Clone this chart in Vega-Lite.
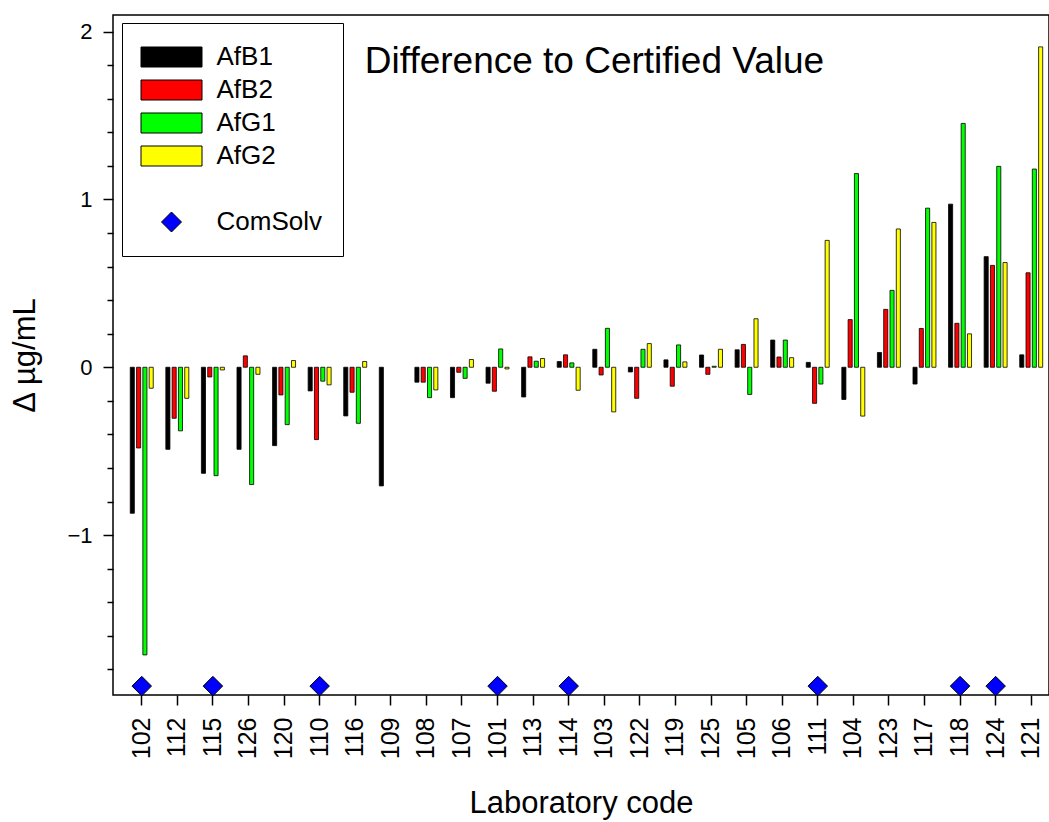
{
  "$schema": "https://vega.github.io/schema/vega-lite/v6.json",
  "autosize": {"type": "none"},
  "padding": {"left": 113, "top": 15, "right": 0, "bottom": 127},
  "width": 936,
  "height": 680,
  "background": "white",
  "config": {
    "font": "Liberation Sans",
    "view": {"stroke": "black", "strokeWidth": 1.5}
  },
  "title": {
    "text": "Difference to Certified Value",
    "font": "Liberation Sans",
    "fontSize": 37,
    "fontWeight": "normal",
    "color": "black",
    "anchor": "middle",
    "frame": "group",
    "baseline": "alphabetic",
    "offset": 0,
    "dy": 95.4,
    "dx": 13.5
  },
  "datasets": {
    "bars": [
      {"lab": "102", "analyte": "AfB1", "value": -0.870}, {"lab": "102", "analyte": "AfB2", "value": -0.481}, {"lab": "102", "analyte": "AfG1", "value": -1.714}, {"lab": "102", "analyte": "AfG2", "value": -0.125},
      {"lab": "112", "analyte": "AfB1", "value": -0.489}, {"lab": "112", "analyte": "AfB2", "value": -0.304}, {"lab": "112", "analyte": "AfG1", "value": -0.379}, {"lab": "112", "analyte": "AfG2", "value": -0.185},
      {"lab": "115", "analyte": "AfB1", "value": -0.632}, {"lab": "115", "analyte": "AfB2", "value": -0.058}, {"lab": "115", "analyte": "AfG1", "value": -0.646}, {"lab": "115", "analyte": "AfG2", "value": -0.016},
      {"lab": "126", "analyte": "AfB1", "value": -0.489}, {"lab": "126", "analyte": "AfB2", "value": 0.068}, {"lab": "126", "analyte": "AfG1", "value": -0.699}, {"lab": "126", "analyte": "AfG2", "value": -0.042},
      {"lab": "120", "analyte": "AfB1", "value": -0.467}, {"lab": "120", "analyte": "AfB2", "value": -0.165}, {"lab": "120", "analyte": "AfG1", "value": -0.342}, {"lab": "120", "analyte": "AfG2", "value": 0.040},
      {"lab": "110", "analyte": "AfB1", "value": -0.141}, {"lab": "110", "analyte": "AfB2", "value": -0.431}, {"lab": "110", "analyte": "AfG1", "value": -0.083}, {"lab": "110", "analyte": "AfG2", "value": -0.105},
      {"lab": "116", "analyte": "AfB1", "value": -0.290}, {"lab": "116", "analyte": "AfB2", "value": -0.149}, {"lab": "116", "analyte": "AfG1", "value": -0.334}, {"lab": "116", "analyte": "AfG2", "value": 0.034},
      {"lab": "109", "analyte": "AfB1", "value": -0.707},
      {"lab": "108", "analyte": "AfB1", "value": -0.089}, {"lab": "108", "analyte": "AfB2", "value": -0.089}, {"lab": "108", "analyte": "AfG1", "value": -0.181}, {"lab": "108", "analyte": "AfG2", "value": -0.135},
      {"lab": "107", "analyte": "AfB1", "value": -0.181}, {"lab": "107", "analyte": "AfB2", "value": -0.030}, {"lab": "107", "analyte": "AfG1", "value": -0.066}, {"lab": "107", "analyte": "AfG2", "value": 0.046},
      {"lab": "101", "analyte": "AfB1", "value": -0.095}, {"lab": "101", "analyte": "AfB2", "value": -0.143}, {"lab": "101", "analyte": "AfG1", "value": 0.109}, {"lab": "101", "analyte": "AfG2", "value": -0.010},
      {"lab": "113", "analyte": "AfB1", "value": -0.177}, {"lab": "113", "analyte": "AfB2", "value": 0.062}, {"lab": "113", "analyte": "AfG1", "value": 0.036}, {"lab": "113", "analyte": "AfG2", "value": 0.052},
      {"lab": "114", "analyte": "AfB1", "value": 0.034}, {"lab": "114", "analyte": "AfB2", "value": 0.074}, {"lab": "114", "analyte": "AfG1", "value": 0.026}, {"lab": "114", "analyte": "AfG2", "value": -0.137},
      {"lab": "103", "analyte": "AfB1", "value": 0.107}, {"lab": "103", "analyte": "AfB2", "value": -0.046}, {"lab": "103", "analyte": "AfG1", "value": 0.232}, {"lab": "103", "analyte": "AfG2", "value": -0.266},
      {"lab": "122", "analyte": "AfB1", "value": -0.028}, {"lab": "122", "analyte": "AfB2", "value": -0.185}, {"lab": "122", "analyte": "AfG1", "value": 0.107}, {"lab": "122", "analyte": "AfG2", "value": 0.141},
      {"lab": "119", "analyte": "AfB1", "value": 0.044}, {"lab": "119", "analyte": "AfB2", "value": -0.113}, {"lab": "119", "analyte": "AfG1", "value": 0.133}, {"lab": "119", "analyte": "AfG2", "value": 0.032},
      {"lab": "125", "analyte": "AfB1", "value": 0.073}, {"lab": "125", "analyte": "AfB2", "value": -0.042}, {"lab": "125", "analyte": "AfG1", "value": 0.006}, {"lab": "125", "analyte": "AfG2", "value": 0.107},
      {"lab": "105", "analyte": "AfB1", "value": 0.104}, {"lab": "105", "analyte": "AfB2", "value": 0.136}, {"lab": "105", "analyte": "AfG1", "value": -0.162}, {"lab": "105", "analyte": "AfG2", "value": 0.289},
      {"lab": "106", "analyte": "AfB1", "value": 0.162}, {"lab": "106", "analyte": "AfB2", "value": 0.061}, {"lab": "106", "analyte": "AfG1", "value": 0.162}, {"lab": "106", "analyte": "AfG2", "value": 0.057},
      {"lab": "111", "analyte": "AfB1", "value": 0.029}, {"lab": "111", "analyte": "AfB2", "value": -0.215}, {"lab": "111", "analyte": "AfG1", "value": -0.100}, {"lab": "111", "analyte": "AfG2", "value": 0.756},
      {"lab": "104", "analyte": "AfB1", "value": -0.192}, {"lab": "104", "analyte": "AfB2", "value": 0.284}, {"lab": "104", "analyte": "AfG1", "value": 1.154}, {"lab": "104", "analyte": "AfG2", "value": -0.291},
      {"lab": "123", "analyte": "AfB1", "value": 0.088}, {"lab": "123", "analyte": "AfB2", "value": 0.345}, {"lab": "123", "analyte": "AfG1", "value": 0.458}, {"lab": "123", "analyte": "AfG2", "value": 0.824},
      {"lab": "117", "analyte": "AfB1", "value": -0.100}, {"lab": "117", "analyte": "AfB2", "value": 0.231}, {"lab": "117", "analyte": "AfG1", "value": 0.948}, {"lab": "117", "analyte": "AfG2", "value": 0.863},
      {"lab": "118", "analyte": "AfB1", "value": 0.972}, {"lab": "118", "analyte": "AfB2", "value": 0.262}, {"lab": "118", "analyte": "AfG1", "value": 1.453}, {"lab": "118", "analyte": "AfG2", "value": 0.199},
      {"lab": "124", "analyte": "AfB1", "value": 0.659}, {"lab": "124", "analyte": "AfB2", "value": 0.607}, {"lab": "124", "analyte": "AfG1", "value": 1.197}, {"lab": "124", "analyte": "AfG2", "value": 0.624},
      {"lab": "121", "analyte": "AfB1", "value": 0.074}, {"lab": "121", "analyte": "AfB2", "value": 0.563}, {"lab": "121", "analyte": "AfG1", "value": 1.181}, {"lab": "121", "analyte": "AfG2", "value": 1.909}
    ],
    "comsolv": [
      {"lab": "102", "analyte": "ComSolv", "value": -1.9},
      {"lab": "115", "analyte": "ComSolv", "value": -1.9},
      {"lab": "110", "analyte": "ComSolv", "value": -1.9},
      {"lab": "101", "analyte": "ComSolv", "value": -1.9},
      {"lab": "114", "analyte": "ComSolv", "value": -1.9},
      {"lab": "111", "analyte": "ComSolv", "value": -1.9},
      {"lab": "118", "analyte": "ComSolv", "value": -1.9},
      {"lab": "124", "analyte": "ComSolv", "value": -1.9}
    ]
  },
  "layer": [
    {
      "data": {"name": "bars"},
      "mark": {"type": "bar", "stroke": "black", "strokeWidth": 0.8},
      "encoding": {
        "x": {
          "field": "lab", "type": "nominal",
          "scale": {
            "domain": ["102","112","115","126","120","110","116","109","108","107","101","113","114","103","122","119","125","105","106","111","104","123","117","118","124","121"],
            "paddingInner": 0, "paddingOuter": 0.154, "align": 1
          },
          "axis": {
            "title": "Laboratory code",
            "titleFont": "Liberation Sans", "titleFontSize": 31, "titleFontWeight": "normal", "titleColor": "black", "titlePadding": 30,
            "labelAngle": -90, "labelFont": "Liberation Sans", "labelFontSize": 25, "labelColor": "black", "labelPadding": 12,
            "tickSize": 10, "tickWidth": 1.5, "tickColor": "black", "bandPosition": 0.5,
            "domain": false, "grid": false
          }
        },
        "xOffset": {
          "field": "analyte", "type": "nominal",
          "scale": {"domain": ["AfB1", "AfB2", "AfG1", "AfG2"], "paddingInner": 0.35, "paddingOuter": 1.45}
        },
        "y": {
          "field": "value", "type": "quantitative",
          "scale": {"domain": [-1.953, 2.099], "nice": false, "zero": false},
          "axis": {
            "orient": "left",
            "values": [-1, 0, 1, 2], "format": "d",
            "title": "Δ µg/mL",
            "titleFont": "Liberation Sans", "titleFontSize": 31, "titleFontWeight": "normal", "titleColor": "black", "titlePadding": 25,
            "labelFont": "Liberation Sans", "labelFontSize": 22, "labelColor": "black", "labelPadding": 11,
            "tickSize": 10, "tickWidth": 1.5, "tickColor": "black",
            "domain": false, "grid": false
          }
        },
        "fill": {
          "field": "analyte", "type": "nominal",
          "scale": {
            "domain": ["AfB1", "AfB2", "AfG1", "AfG2", " ", "ComSolv"],
            "range": ["#000000", "#ff0000", "#00ff00", "#ffff00", "#ffffff", "#0000ff"]
          },
          "legend": {
            "title": null, "orient": "none", "legendX": 9, "legendY": 8, "direction": "vertical",
            "padding": 21, "rowPadding": 7, "symbolOffset": 15.5, "labelOffset": 32,
            "symbolSize": 400, "symbolStrokeColor": "black", "symbolStrokeWidth": 1,
            "labelFont": "Liberation Sans", "labelFontSize": 26, "labelColor": "black",
            "strokeColor": "black", "fillColor": "white",
            "encode": {
              "symbols": {
                "update": {
                  "shape": {"signal": "datum.value === 'ComSolv' ? 'diamond' : 'M-3.05,-1H3.05V1H-3.05Z'"},
                  "stroke": {"value": "black"},
                  "strokeOpacity": {"signal": "datum.value === ' ' ? 0 : 1"}
                }
              }
            }
          }
        }
      }
    },
    {
      "mark": {"type": "rule", "stroke": "black", "strokeWidth": 1.5},
      "encoding": {
        "y": {
          "datum": 0, "type": "quantitative",
          "axis": {
            "orient": "left",
            "values": [-1.8, -1.6, -1.4, -1.2, -0.8, -0.6, -0.4, -0.2, 0.2, 0.4, 0.6, 0.8, 1.2, 1.4, 1.6, 1.8],
            "labels": false, "title": null, "tickSize": 6, "tickWidth": 1.5, "tickColor": "black",
            "domain": false, "grid": false
          }
        }
      }
    },
    {
      "data": {"name": "comsolv"},
      "mark": {"type": "point", "shape": "diamond", "filled": true, "size": 380, "stroke": "black", "strokeWidth": 1, "opacity": 1},
      "encoding": {
        "x": {"field": "lab", "type": "nominal"},
        "y": {"field": "value", "type": "quantitative", "axis": null},
        "fill": {"field": "analyte", "type": "nominal"}
      }
    }
  ],
  "resolve": {"axis": {"y": "independent"}}
}
